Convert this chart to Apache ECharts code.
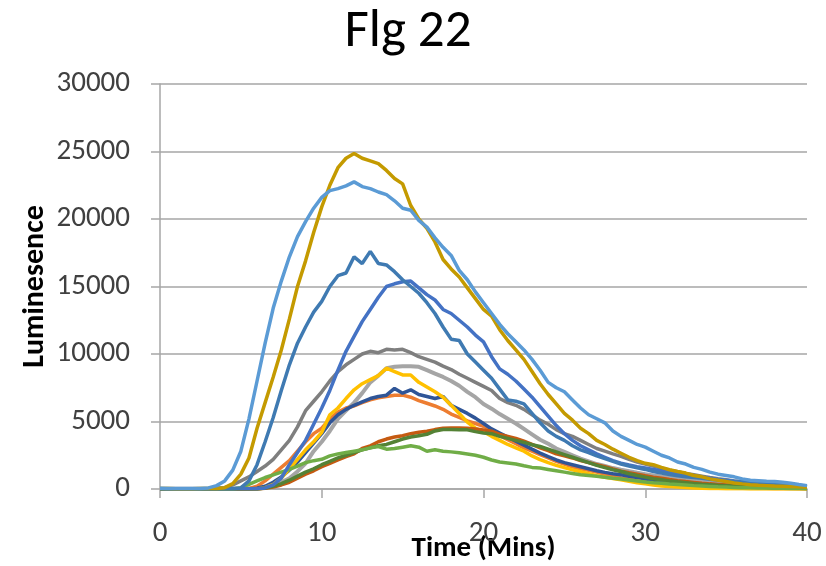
<!DOCTYPE html>
<html>
<head>
<meta charset="utf-8">
<script src="https://cdn.jsdelivr.net/npm/echarts@6/dist/echarts.min.js"></script>
<style>
html,body{margin:0;padding:0;background:#fff;}
#chart{width:826px;height:566px;}
</style>
</head>
<body>
<div id="chart"></div>
<script>
var times = [0,0.5,1,1.5,2,2.5,3,3.5,4,4.5,5,5.5,6,6.5,7,7.5,8,8.5,9,9.5,10,10.5,11,11.5,12,12.5,13,13.5,14,14.5,15,15.5,16,16.5,17,17.5,18,18.5,19,19.5,20,20.5,21,21.5,22,22.5,23,23.5,24,24.5,25,25.5,26,26.5,27,27.5,28,28.5,29,29.5,30,30.5,31,31.5,32,32.5,33,33.5,34,34.5,35,35.5,36,36.5,37,37.5,38,38.5,39,39.5,40];

var lightBlue = [50,40,30,30,30,40,80,250,600,1400,2800,5200,8000,10800,13400,15400,17200,18700,19800,20800,21600,22100,22250,22450,22750,22400,22250,22000,21800,21350,20800,20650,19900,19400,18600,17900,17300,16200,15500,14600,13800,13000,12200,11500,10900,10300,9600,8800,7900,7500,7200,6600,6000,5500,5200,4900,4300,3900,3600,3300,3100,2800,2500,2300,2000,1850,1600,1450,1250,1100,1000,900,750,650,620,580,560,500,420,330,250];
var gold = [30,30,20,20,20,30,30,40,100,400,1100,2300,4500,6400,8300,10300,12600,15000,16900,19000,20900,22500,23800,24500,24850,24500,24300,24100,23600,23000,22600,21000,20000,19300,18300,17000,16300,15700,14900,14100,13300,12800,11800,11000,10300,9600,8700,7800,7000,6300,5600,5100,4500,4100,3600,3300,2950,2650,2350,2100,1900,1800,1600,1430,1300,1180,1000,900,750,650,550,450,380,320,280,250,220,200,180,160,130];
var steelBlue = [20,20,20,20,20,20,20,30,30,40,80,600,1800,3500,5300,7300,9200,10800,12000,13100,13900,15000,15800,16000,17200,16700,17600,16700,16600,16100,15500,15000,14500,13800,13000,12000,11100,11000,10000,9400,8800,8200,7400,6600,6500,6300,5600,4900,4300,3900,3600,3200,2900,2700,2450,2250,2050,1850,1700,1580,1450,1300,1180,1080,980,900,850,800,720,660,600,560,520,490,460,440,400,350,300,220,180];
var royalBlue = [10,10,10,10,10,10,10,10,10,10,10,10,20,80,300,800,1800,2700,3600,4800,6000,7300,8800,10200,11300,12400,13300,14200,15000,15200,15350,15400,14900,14400,14000,13300,13000,12500,12000,11400,10900,9800,8900,8500,8000,7400,6800,6100,5400,4700,4100,3600,3200,2900,2600,2350,2100,1920,1780,1650,1550,1450,1350,1250,1150,1060,960,880,790,710,640,570,510,460,410,360,320,280,240,200,160];
var darkGray = [20,20,20,20,20,20,30,50,100,300,600,900,1300,1700,2200,2900,3600,4600,5800,6500,7200,8000,8700,9200,9600,10000,10200,10100,10350,10300,10350,10100,9800,9600,9400,9100,8850,8500,8200,7900,7600,7300,6700,6400,6200,5900,5500,5100,4800,4400,4100,3900,3600,3300,3000,2800,2600,2420,2200,2000,1850,1700,1550,1400,1280,1150,1050,950,850,760,680,600,540,480,420,370,320,280,240,200,170];
var lightGray = [20,20,20,20,20,20,20,20,20,20,20,20,50,150,300,500,800,1300,1900,2800,3500,4300,5200,5800,6400,7100,7900,8400,8950,9050,9100,9100,9050,8800,8550,8300,8000,7650,7200,6800,6300,5950,5550,5200,4850,4450,4050,3650,3350,3000,2750,2500,2250,2050,1850,1700,1550,1430,1320,1200,1100,1000,920,850,780,700,640,580,520,460,400,350,300,260,220,190,160,130,110,90,70];
var yellow = [0,0,0,0,0,0,0,0,0,0,0,0,0,100,350,800,1500,2200,2900,3500,4200,5500,6000,6700,7350,7800,8100,8400,8950,8700,8450,8450,7900,7550,7200,6800,6200,5600,4950,4500,4250,3900,3600,3300,3050,2800,2450,2170,1950,1750,1580,1420,1280,1130,980,870,780,690,580,470,380,300,230,180,140,110,80,60,40,30,20,10,10,0,0,0,0,0,0,0,0];
var orange = [0,0,0,0,0,0,0,0,0,0,0,50,200,600,1100,1600,2100,2800,3500,4100,4500,5200,5700,6000,6150,6400,6600,6750,6850,6950,6950,6800,6550,6350,6150,5900,5550,5300,5050,4850,4650,4350,3950,3650,3350,3050,2800,2540,2300,2050,1850,1650,1500,1380,1250,1080,950,810,720,620,540,480,420,360,310,270,230,200,170,140,120,100,80,70,60,50,40,30,30,20,20];
var darkBlue = [0,0,0,0,0,0,0,0,0,0,0,0,60,200,500,900,1400,2000,2700,3400,4100,4900,5500,5900,6200,6450,6700,6850,6950,7450,7100,7350,7000,6850,6700,6850,6200,5900,5600,5250,4850,4450,4150,3850,3550,3250,2950,2660,2400,2150,1950,1800,1650,1500,1350,1230,1130,1060,950,850,760,650,560,490,430,380,330,290,250,220,190,160,140,120,100,90,80,70,60,50,40];
var darkOrange = [0,0,0,0,0,0,0,0,0,0,0,0,0,50,150,300,500,800,1100,1350,1650,1900,2150,2400,2600,3000,3200,3500,3700,3850,3950,4100,4200,4280,4400,4500,4520,4520,4500,4450,4380,4280,4050,3900,3750,3550,3300,3050,2850,2600,2450,2300,2100,1950,1800,1650,1480,1320,1200,1100,980,880,790,700,620,550,490,430,380,340,300,260,230,200,180,160,140,120,100,80,60];
var darkGreen = [0,0,0,0,0,0,0,0,0,0,0,0,0,80,200,400,650,950,1250,1500,1800,2050,2300,2500,2700,2900,3050,3200,3300,3500,3700,3850,3950,4050,4300,4400,4400,4380,4380,4250,4150,4100,3900,3750,3600,3450,3280,3150,2950,2750,2550,2350,2150,1950,1750,1580,1430,1300,1130,1000,880,760,680,600,530,470,410,360,320,280,250,220,190,160,140,120,100,80,60,50,40];
var green = [0,0,0,0,0,0,0,0,0,0,100,350,600,850,1050,1250,1450,1700,1950,2100,2200,2450,2600,2700,2800,2900,3050,3150,2950,3000,3100,3200,3100,2800,2900,2800,2750,2680,2600,2500,2350,2150,2000,1930,1850,1720,1600,1550,1450,1350,1250,1150,1050,1000,950,870,800,740,660,600,520,460,420,370,330,290,250,220,190,160,140,120,100,90,80,70,60,50,40,30,30];

var xTicks = [0, 10, 20, 30, 40];
var yTicks = [0, 5000, 10000, 15000, 20000, 25000, 30000];

var seriesList = [
  {name:'S3', data: lightGray, color:'#A5A5A5', width:4},
  {name:'S2', data: orange, color:'#ED7D31', width:3.5},
  {name:'S11', data: darkBlue, color:'#2F5597', width:3.5},
  {name:'S4', data: yellow, color:'#FFC000', width:3.5},
  {name:'S9', data: darkGray, color:'#7F7F7F', width:3.5},
  {name:'S8', data: darkOrange, color:'#C55A11', width:3.5},
  {name:'S12', data: darkGreen, color:'#548235', width:3.5},
  {name:'S6', data: green, color:'#70AD47', width:3.5},
  {name:'S5', data: royalBlue, color:'#4472C4', width:3.5},
  {name:'S7', data: steelBlue, color:'#3F7AB2', width:3.5},
  {name:'S10', data: gold, color:'#C49A00', width:3.5},
  {name:'S1', data: lightBlue, color:'#5B9BD5', width:3.5}
];

var FONT = 'Carlito, "Open Sans", sans-serif';
var GRID = '#A6A6A6';

var chart = echarts.init(document.getElementById('chart'), null, {renderer:'canvas'});
chart.setOption({
  animation: false,
  backgroundColor: '#ffffff',
  title: {
    text: 'Flg 22',
    left: 403,
    textAlign: 'center',
    top: 1,
    textStyle: {fontFamily: FONT, fontSize: 53, fontWeight: 'normal', color: '#000'}
  },
  grid: {left: 160, right: 19, top: 84, bottom: 77, containLabel: false, outerBoundsMode: 'none'},
  xAxis: {
    type: 'value',
    min: xTicks[0], max: xTicks[xTicks.length-1], interval: xTicks[1]-xTicks[0],
    name: 'Time (Mins)',
    nameLocation: 'middle',
    nameGap: 45,
    nameMoveOverlap: false,
    nameTextStyle: {fontFamily: FONT, fontSize: 29, fontWeight: 'bold', color: '#000'},
    axisLine: {show: true, onZero: false, lineStyle: {color: GRID, width: 1.5}},
    axisTick: {show: true, length: 9, lineStyle: {color: GRID, width: 1.5}},
    axisLabel: {fontFamily: FONT, fontSize: 29, color: '#404040', margin: 30,
      formatter: function(v){ return String(v); }},
    splitLine: {show: false}
  },
  yAxis: {
    type: 'value',
    min: yTicks[0], max: yTicks[yTicks.length-1], interval: yTicks[1]-yTicks[0],
    name: 'Luminesence',
    nameLocation: 'middle',
    nameGap: 110,
    nameRotate: 90,
    nameMoveOverlap: false,
    nameTextStyle: {fontFamily: FONT, fontSize: 30, fontWeight: 'bold', color: '#000'},
    axisLine: {show: true, lineStyle: {color: GRID, width: 1.5}},
    axisTick: {show: true, length: 9, lineStyle: {color: GRID, width: 1.5}},
    axisLabel: {fontFamily: FONT, fontSize: 29, color: '#404040', margin: 30,
      formatter: function(v){ return String(v); }},
    splitLine: {show: true, lineStyle: {color: GRID, width: 1.5}}
  },
  series: seriesList.map(function(s){
    return {
      name: s.name,
      type: 'line',
      symbol: 'none',
      showSymbol: false,
      smooth: false,
      lineStyle: {color: s.color, width: s.width},
      itemStyle: {color: s.color},
      data: times.map(function(t, i){ return [t, s.data[i]]; })
    };
  })
});
</script>
</body>
</html>
